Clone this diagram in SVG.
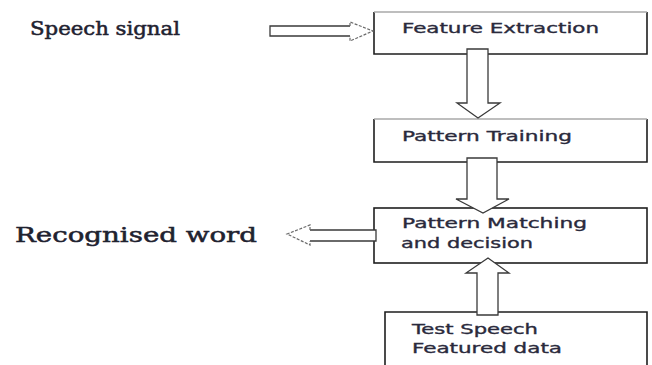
<svg xmlns="http://www.w3.org/2000/svg" width="652" height="365" viewBox="0 0 652 365">
  <style>
    .box { fill: #ffffff; stroke: #1e1e1e; stroke-width: 1.6; }
    .soft { stroke: #a8a8a8; stroke-width: 1.4; }
    .arrow { fill: #ffffff; stroke: #3a3a3a; stroke-width: 1.3; stroke-linejoin: miter; }
    .head { fill: none; stroke: #6a6a6a; stroke-width: 1.2; stroke-dasharray: 3 1.5; }
    .lbl { font-family: "DejaVu Sans", Verdana, sans-serif; font-size: 14px; fill: #2a2a3c; stroke: #2a2a3c; stroke-width: 0.35; }
    .side { font-family: "DejaVu Serif", "Liberation Serif", serif; fill: #1f2230; stroke: #1f2230; stroke-width: 0.5; }
  </style>
  <rect width="652" height="365" fill="#ffffff"/>

  <!-- side captions -->
  <text class="side" x="30" y="35" font-size="18" textLength="150" lengthAdjust="spacingAndGlyphs">Speech signal</text>
  <text class="side" x="15" y="242" font-size="20" textLength="242" lengthAdjust="spacingAndGlyphs">Recognised word</text>

  <!-- process boxes -->
  <g id="feature-extraction">
    <rect x="374" y="12" width="273" height="42" fill="#ffffff"/>
    <path d="M374,12 V54 H647 V12" fill="none" stroke="#1e1e1e" stroke-width="1.6"/>
    <line class="soft" x1="374" y1="12" x2="647" y2="12"/>
    <text class="lbl" x="402" y="33" textLength="197" lengthAdjust="spacingAndGlyphs">Feature Extraction</text>
  </g>
  <g id="pattern-training">
    <rect x="374" y="119" width="273" height="43" fill="#ffffff"/>
    <path d="M374,119 V162 H647 V119" fill="none" stroke="#1e1e1e" stroke-width="1.6"/>
    <line class="soft" x1="374" y1="119" x2="647" y2="119"/>
    <text class="lbl" x="402" y="141" textLength="170" lengthAdjust="spacingAndGlyphs">Pattern Training</text>
  </g>
  <g id="pattern-matching">
    <rect class="box" x="374" y="208" width="273" height="55"/>
    <text class="lbl" x="402" y="228" textLength="185" lengthAdjust="spacingAndGlyphs">Pattern Matching</text>
    <text class="lbl" x="401" y="248" textLength="132" lengthAdjust="spacingAndGlyphs">and decision</text>
  </g>
  <g id="test-speech">
    <path d="M385,366 V312 H647 V366" fill="#ffffff" stroke="#1e1e1e" stroke-width="1.6"/>
    <text class="lbl" x="412" y="334" textLength="126" lengthAdjust="spacingAndGlyphs">Test Speech</text>
    <text class="lbl" x="412" y="353" textLength="150" lengthAdjust="spacingAndGlyphs">Featured data</text>
  </g>

  <!-- block arrows -->
  <g id="connectors">
    <!-- speech signal into feature extraction -->
    <path class="arrow" d="M350,26 H270 V36 H350"/>
    <path class="head" d="M350,26 V22 L373,31 L350,41 V36"/>
    <!-- feature extraction to pattern training -->
    <polygon class="arrow" points="467,49 488,49 488,103 500,103 478,118 457,103 467,103"/>
    <!-- pattern training to pattern matching -->
    <polygon class="arrow" points="467,158 497,158 497,199 509,199 483,213 456,199 467,199"/>
    <!-- test data up into pattern matching -->
    <polygon class="arrow" points="477,315 498,315 498,273 509,273 488,258 466,273 477,273"/>
    <!-- decision out to recognised word -->
    <path class="arrow" d="M310,230 H376 V241 H310"/>
    <path class="head" d="M310,230 V225 L287,234 L310,245 V241"/>
  </g>
</svg>
